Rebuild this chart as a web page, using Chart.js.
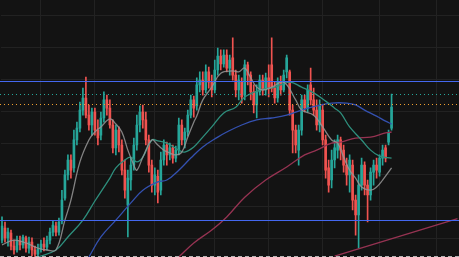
<!DOCTYPE html>
<html>
<head>
<meta charset="utf-8">
<script src="https://cdn.jsdelivr.net/npm/chart.js@4.4.1/dist/chart.umd.min.js"></script>
<style>
  html, body { margin: 0; padding: 0; background: #131313; }
  #wrap { width: 459px; height: 257px; }
</style>
</head>
<body>
<div id="wrap"><canvas id="chart" width="459" height="257"></canvas></div>
<script>
// slots on the time axis (candles + empty space on the right)
const SLOTS = 153;
const labels = Array.from({ length: SLOTS }, (_, i) => i);

// daily candles
const opens = [169.5,173.3,170.2,171.7,167.6,166.4,169.2,168.0,170.2,167.0,
  168.9,166.4,165.1,166.7,168.3,167.3,169.5,172.0,173.9,172.0,
  175.5,182.7,190.0,194.7,192.2,201.0,204.7,210.4,214.2,208.8,
  205.7,209.8,204.1,202.5,207.9,213.6,211.0,205.7,198.5,204.1,
  199.4,191.5,180.5,188.4,193.1,199.4,205.7,209.8,207.3,201.0,
  193.1,186.8,189.6,185.2,194.7,199.4,196.3,198.5,195.3,197.8,
  205.7,201.0,203.5,208.8,213.6,211.7,218.3,219.8,216.7,222.4,
  219.2,216.7,223.0,227.4,224.9,227.7,223.6,226.8,221.4,216.7,
  219.2,215.1,224.6,221.4,216.1,212.0,216.1,219.8,216.7,220.5,
  224.6,217.3,214.2,219.2,216.7,222.4,222.4,210.4,204.1,197.8,
  204.1,213.6,211.0,218.3,213.6,210.4,205.7,210.4,201.0,192.2,
  188.4,194.7,197.8,201.0,197.8,193.1,190.0,193.1,182.1,177.4,
  186.8,193.1,186.8,183.7,190.9,193.1,190.9,195.3,198.5,200.3,
  204.7];
const highs = [176.8,175.2,173.3,172.7,169.5,170.8,170.8,171.1,170.8,170.5,
  170.2,167.6,168.3,169.5,170.2,170.8,173.3,175.5,175.2,176.4,
  185.2,191.5,196.3,196.3,204.1,206.6,212.9,217.3,220.8,212.0,
  211.0,211.0,207.3,209.8,216.1,215.1,213.6,207.3,205.7,205.1,
  201.0,194.7,191.5,195.3,201.6,208.8,211.7,212.0,209.8,202.5,
  194.7,192.2,191.5,197.2,201.0,200.3,200.0,199.4,199.1,207.9,
  207.3,204.7,210.4,215.1,214.8,220.5,222.4,222.4,224.6,223.9,
  221.4,226.1,229.9,229.3,229.3,229.3,227.7,233.1,223.0,221.4,
  220.5,226.1,225.5,222.4,218.3,218.3,221.4,221.4,222.0,224.6,
  233.1,219.2,220.5,221.1,223.0,227.7,223.0,212.0,205.7,205.7,
  215.1,215.1,218.3,223.6,217.3,213.6,213.6,212.0,202.5,194.7,
  197.8,201.0,202.5,201.9,199.4,195.3,196.3,194.7,183.7,190.0,
  195.3,194.1,188.4,192.2,194.7,195.3,196.3,199.4,199.4,204.1,
  215.4];
const lows = [168.6,168.9,167.6,166.4,165.1,165.7,166.4,167.0,165.7,165.4,
  164.5,164.2,164.2,165.7,166.1,166.4,168.3,170.8,170.8,171.1,
  174.6,182.1,188.4,189.0,190.9,199.4,203.5,208.8,207.9,204.1,
  202.5,202.5,199.4,201.0,206.6,208.8,204.7,196.9,196.3,197.2,
  190.0,182.7,170.5,185.2,191.5,197.8,203.5,204.7,199.4,190.9,
  184.6,183.7,181.2,183.7,193.1,193.1,194.7,193.7,194.1,196.3,
  199.4,198.5,202.2,207.9,208.2,210.4,216.1,215.1,215.8,217.3,
  214.5,215.8,221.4,223.0,223.9,222.4,221.4,219.8,214.5,213.6,
  212.6,213.6,218.3,213.6,209.5,207.9,215.1,215.1,215.1,214.5,
  216.1,212.6,212.9,215.1,216.1,220.5,208.8,196.9,196.9,193.1,
  202.5,209.8,209.8,212.0,208.8,204.1,203.5,199.4,189.0,184.6,
  185.9,192.2,195.3,194.7,190.9,186.8,184.6,179.0,171.1,167.0,
  185.2,183.7,175.2,182.1,186.8,189.0,189.6,193.1,194.1,199.4,
  204.1];
const closes = [173.9,170.2,172.0,167.6,166.4,169.5,168.0,170.5,167.0,168.9,
  166.4,165.1,166.7,168.3,167.3,169.5,172.0,174.2,172.0,175.2,
  182.1,190.0,194.7,191.5,201.0,204.7,210.4,214.2,208.8,205.7,
  209.8,204.1,201.6,207.9,213.6,211.0,205.7,198.5,204.1,199.4,
  191.5,185.2,189.0,193.1,199.4,205.7,209.8,207.3,201.0,193.1,
  186.8,190.0,184.6,194.7,199.4,196.3,198.5,195.3,197.8,205.7,
  201.0,203.5,208.8,213.6,211.0,218.3,219.8,216.7,222.4,219.2,
  216.7,223.0,227.4,224.9,227.7,223.6,226.1,221.4,216.7,219.8,
  214.5,224.6,221.4,216.1,212.0,216.1,219.8,216.7,220.5,217.3,
  217.3,214.2,219.2,216.7,221.4,226.8,210.4,204.1,199.4,204.1,
  213.6,211.0,216.7,213.6,210.4,205.7,212.0,201.0,191.5,186.8,
  194.7,198.5,201.0,197.8,193.1,190.0,194.7,182.1,177.4,186.8,
  193.1,186.8,183.7,190.9,193.1,191.5,195.3,197.8,195.3,203.2,
  211.3];

// moving averages as [slot, value]
const maShort = [[0,168.0],[4,169.5],[8,168.6],[12,167.0],[15,166.4],[18,166.4],[21,175.8],
  [23,182.1],[26,194.1],[29,201.0],[31,203.5],[33,205.1],[36,207.6],[38,206.0],[40,203.5],
  [42,197.8],[44,193.1],[45,191.5],[47,195.6],[50,201.0],[52,199.4],[54,197.8],[56,196.9],
  [58,196.3],[60,197.2],[62,201.9],[64,206.6],[65,208.5],[67,213.6],[70,217.6],[73,222.0],
  [77,222.7],[79,222.4],[81,223.6],[83,220.5],[85,217.6],[87,216.7],[90,217.6],[94,219.2],
  [98,213.6],[100,210.4],[104,208.8],[107,205.1],[110,201.0],[112,200.0],[114,195.6],
  [116,191.5],[118,189.0],[120,186.2],[123,185.2],[125,186.2],[127,188.4],[130,192.2]];
const maMid = [[12,164.2],[18,166.4],[22,170.5],[27,175.8],[31,181.8],[36,189.0],[38,192.2],
  [41,194.7],[43,195.6],[45,194.1],[47,195.6],[50,201.0],[52,200.7],[55,200.0],[59,197.8],
  [61,197.2],[64,198.8],[67,201.9],[70,205.1],[74,209.5],[78,211.3],[81,214.5],[86,216.7],
  [91,217.6],[96,219.2],[100,217.6],[104,215.8],[108,213.2],[111,211.0],[113,209.5],
  [116,205.1],[120,201.0],[123,197.8],[126,195.9],[130,195.3]];
const maLong = [[29,164.2],[33,170.5],[38,175.8],[43,181.2],[47,185.2],[52,187.8],[55,188.4],
  [59,191.5],[63,195.3],[67,198.8],[72,201.9],[75,203.5],[80,205.7],[85,207.3],[90,207.9],
  [95,208.8],[100,210.4],[105,211.7],[110,212.6],[115,212.6],[118,212.0],[121,210.4],
  [125,208.5],[128,206.9],[130,206.0]];
const ma200 = [[59,164.2],[64,168.6],[70,172.7],[75,176.8],[81,183.0],[88,188.4],[95,192.5],
  [101,196.3],[105,197.8],[110,200.0],[113,200.3],[118,201.6],[123,201.9],[128,203.2],[130,203.5]];
const trendPoints = [[111,164.5],[152,176.3]];

// horizontal levels
const levelValues = [219.5, 175.8, 215.4, 212.3, 164.4];
const levelStyles = [
  { color: '#4468f0', dash: null },
  { color: '#4468f0', dash: null },
  { color: '#26a69a', dash: [1, 3] },
  { color: '#f0a030', dash: [1, 3] },
  { color: '#b4b4b4', dash: [4, 3] }
];

// month separators
const monthTicks = [13, 31, 51, 71, 89, 107, 126, 145];

const GRID = '#222222';
const UP = '#26a69a';
const DOWN = '#ef5350';

function sparse(points) {
  const arr = new Array(SLOTS).fill(null);
  points.forEach(([i, v]) => { arr[i] = v; });
  return arr;
}

const candleColors = opens.map((o, i) => closes[i] >= o ? UP : DOWN);

function maLine(points, color, width) {
  return {
    type: 'line',
    data: sparse(points),
    borderColor: color,
    borderWidth: width,
    pointRadius: 0,
    spanGaps: true,
    tension: 0.4,
    order: 0
  };
}

const levelPlugin = {
  id: 'levels',
  afterDatasetsDraw(chart) {
    const { ctx, scales: { y } } = chart;
    levelValues.forEach((v, i) => {
      const s = levelStyles[i];
      const row = Math.round(y.getPixelForValue(v));
      ctx.save();
      if (!s.dash) {
        ctx.fillStyle = s.color;
        ctx.fillRect(0, row, chart.width, 1);
      } else {
        ctx.strokeStyle = s.color;
        ctx.lineWidth = 1;
        ctx.setLineDash(s.dash);
        ctx.beginPath();
        ctx.moveTo(0, row + 0.5);
        ctx.lineTo(chart.width, row + 0.5);
        ctx.stroke();
      }
      ctx.restore();
    });
  }
};

new Chart(document.getElementById('chart'), {
  type: 'bar',
  data: {
    labels: labels,
    datasets: [
      maLine(maShort, 'rgba(150,150,150,0.85)', 1.3),
      maLine(maMid, '#2e8f7d', 1.3),
      maLine(maLong, '#3451b0', 1.3),
      maLine(ma200, '#963352', 1.3),
      maLine(trendPoints, '#963352', 1.3),
      {
        data: opens.map((o, i) => [o, closes[i]]),
        backgroundColor: candleColors,
        barThickness: 2,
        minBarLength: 1,
        grouped: false,
        order: 1
      },
      {
        data: lows.map((l, i) => [l, highs[i]]),
        backgroundColor: candleColors,
        barThickness: 1,
        grouped: false,
        order: 2
      }
    ]
  },
  options: {
    responsive: false,
    animation: false,
    layout: { padding: { left: 0.5, right: 0, top: 0, bottom: 0 } },
    plugins: { legend: { display: false }, tooltip: { enabled: false } },
    scales: {
      x: {
        offset: true,
        border: { display: false },
        ticks: { display: false },
        grid: {
          offset: false,
          drawTicks: false,
          color: c => monthTicks.includes(c.index) ? GRID : 'transparent'
        }
      },
      y: {
        min: 164.2,
        max: 245,
        beginAtZero: false,
        border: { display: false },
        ticks: { display: false, stepSize: 10 },
        grid: {
          drawTicks: false,
          color: c => (c.tick && c.tick.value % 10 === 0) ? GRID : 'transparent'
        }
      }
    }
  },
  plugins: [levelPlugin]
});
</script>
</body>
</html>
